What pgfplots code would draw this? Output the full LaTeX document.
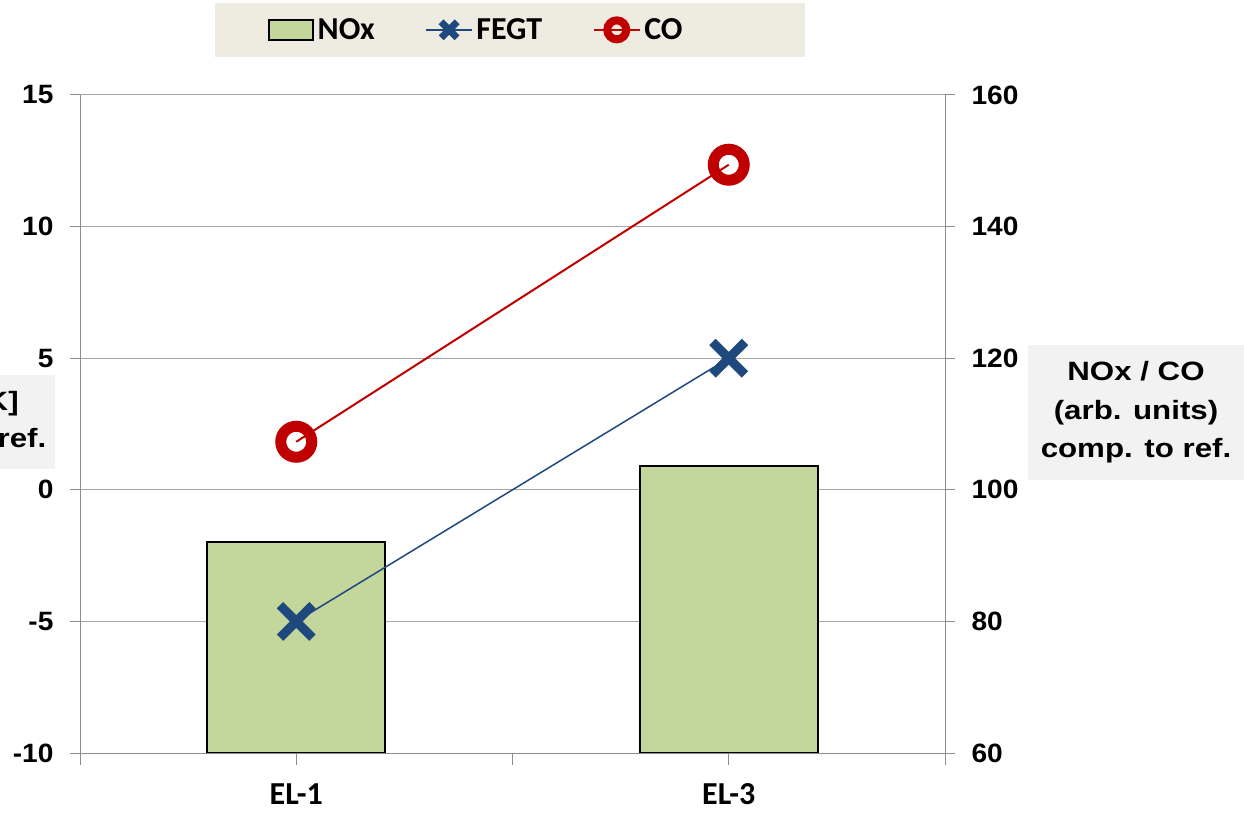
\documentclass[border=0pt]{standalone}
\usepackage{fontspec}
\usepackage{pgfplots}
\pgfplotsset{compat=1.18}

\newfontfamily\tickfont{Liberation Sans}[FakeStretch=1.06]
\newfontfamily\labelfont{Liberation Sans}[FakeStretch=1.18]
\newfontfamily\catfont{Carlito}

\definecolor{barGreen}{HTML}{C3D69B}
\definecolor{legendTan}{HTML}{EEECE1}
\definecolor{labelGrey}{HTML}{F2F2F2}
\definecolor{gridGrey}{HTML}{A6A6A6}
\definecolor{axisGrey}{HTML}{8C8C8C}
\definecolor{fegtBlue}{HTML}{1F497D}
\definecolor{coRed}{HTML}{C00000}

\pgfplotsset{
  frame/.style={
    at={(80pt,59pt)}, anchor=south west, scale only axis,
    width=865pt, height=658pt, xmin=-0.5, xmax=1.5,
    axis line style={-, draw=axisGrey, line width=1pt},
    tick align=outside, major tick length=10pt,
    tick style={draw=axisGrey, line width=1pt},
    /pgf/number format/assume math mode=true,
    yticklabel style={font=\tickfont\bfseries\fontsize{26.5pt}{30pt}\selectfont},
  },
}

\begin{document}
\begin{tikzpicture}
\path[use as bounding box] (0,0) rectangle (1244pt,812pt);

% legend panel
\fill[legendTan] (215pt,755pt) rectangle (805pt,809pt);

% axis titles
\node[fill=labelGrey, minimum width=216pt, minimum height=135pt, inner sep=0pt,
      align=center, font=\labelfont\bfseries\fontsize{26.5pt}{38.5pt}\selectfont]
  at (1136pt,399.5pt) {NOx / CO\\(arb. units)\\comp. to ref.};
\node[fill=labelGrey, minimum width=208pt, minimum height=93pt, inner sep=0pt,
      align=center, font=\labelfont\bfseries\fontsize{26.5pt}{37pt}\selectfont]
  at (-49pt,390pt) {FEGT [K]\\comp. to ref.};

% right-hand scale: NOx bars and CO line
\begin{axis}[frame,
  ymin=60, ymax=160, ytick={60,80,...,160},
  axis x line=none, axis y line*=right,
  yticklabel style={xshift=13pt},
  ymajorgrids, major grid style={draw=gridGrey, line width=1pt},
]
\addplot[ybar, bar width=0.4116, fill=barGreen, draw=black, line width=2pt]
  coordinates {(0,92) (1,103.6)};
\addplot[color=coRed, line width=2pt, mark=o, mark size=15.5pt,
         mark options={line width=11pt, solid}]
  coordinates {(0,107.3) (1,149.4)};
\end{axis}

% left-hand scale: FEGT
\begin{axis}[frame,
  ymin=-10, ymax=15, ytick={-10,-5,...,15},
  axis x line*=bottom, axis y line*=left,
  yticklabel style={xshift=-13pt},
  xtick={-0.5,0.5,1.5}, xticklabels={},
  major x tick style={/pgfplots/major tick length=12pt},
  extra x ticks={0,1}, extra x tick labels={EL-1,EL-3},
  extra x tick style={major tick length=0pt},
  xticklabel style={font=\catfont\bfseries\fontsize{32pt}{36pt}\selectfont, yshift=-27pt},
  legend columns=3,
  legend style={at={(0.2173,1.099)}, anchor=west, draw=none, fill=none,
    inner sep=0pt, nodes={inner ysep=2pt, inner xsep=3.5pt},
    font=\catfont\bfseries\fontsize{32pt}{36pt}\selectfont,
    /tikz/every even column/.append style={column sep=47pt}},
]
\addlegendimage{legend image code/.code={
  \draw[draw=black, fill=barGreen, line width=2pt] (0pt,-10pt) rectangle (44pt,10pt);}}
\addlegendentry{NOx}
\addplot[color=fegtBlue, line width=1.5pt, mark=x, mark size=23pt,
         mark options={line width=9pt, solid},
         legend image code/.code={
           \draw[fegtBlue, line width=1.5pt] (0pt,0pt) -- (46pt,0pt);
           \draw[fegtBlue, line width=7pt] (15pt,-8pt) -- (31pt,8pt) (15pt,8pt) -- (31pt,-8pt);}]
  coordinates {(0,-5) (1,5)};
\addlegendentry{FEGT}
\addlegendimage{legend image code/.code={
  \draw[coRed, line width=2pt] (0pt,0pt) -- (46pt,0pt);
  \draw[coRed, line width=8pt] (23pt,0pt) circle[radius=9.5pt];}}
\addlegendentry{CO}
\end{axis}
\end{tikzpicture}
\end{document}
